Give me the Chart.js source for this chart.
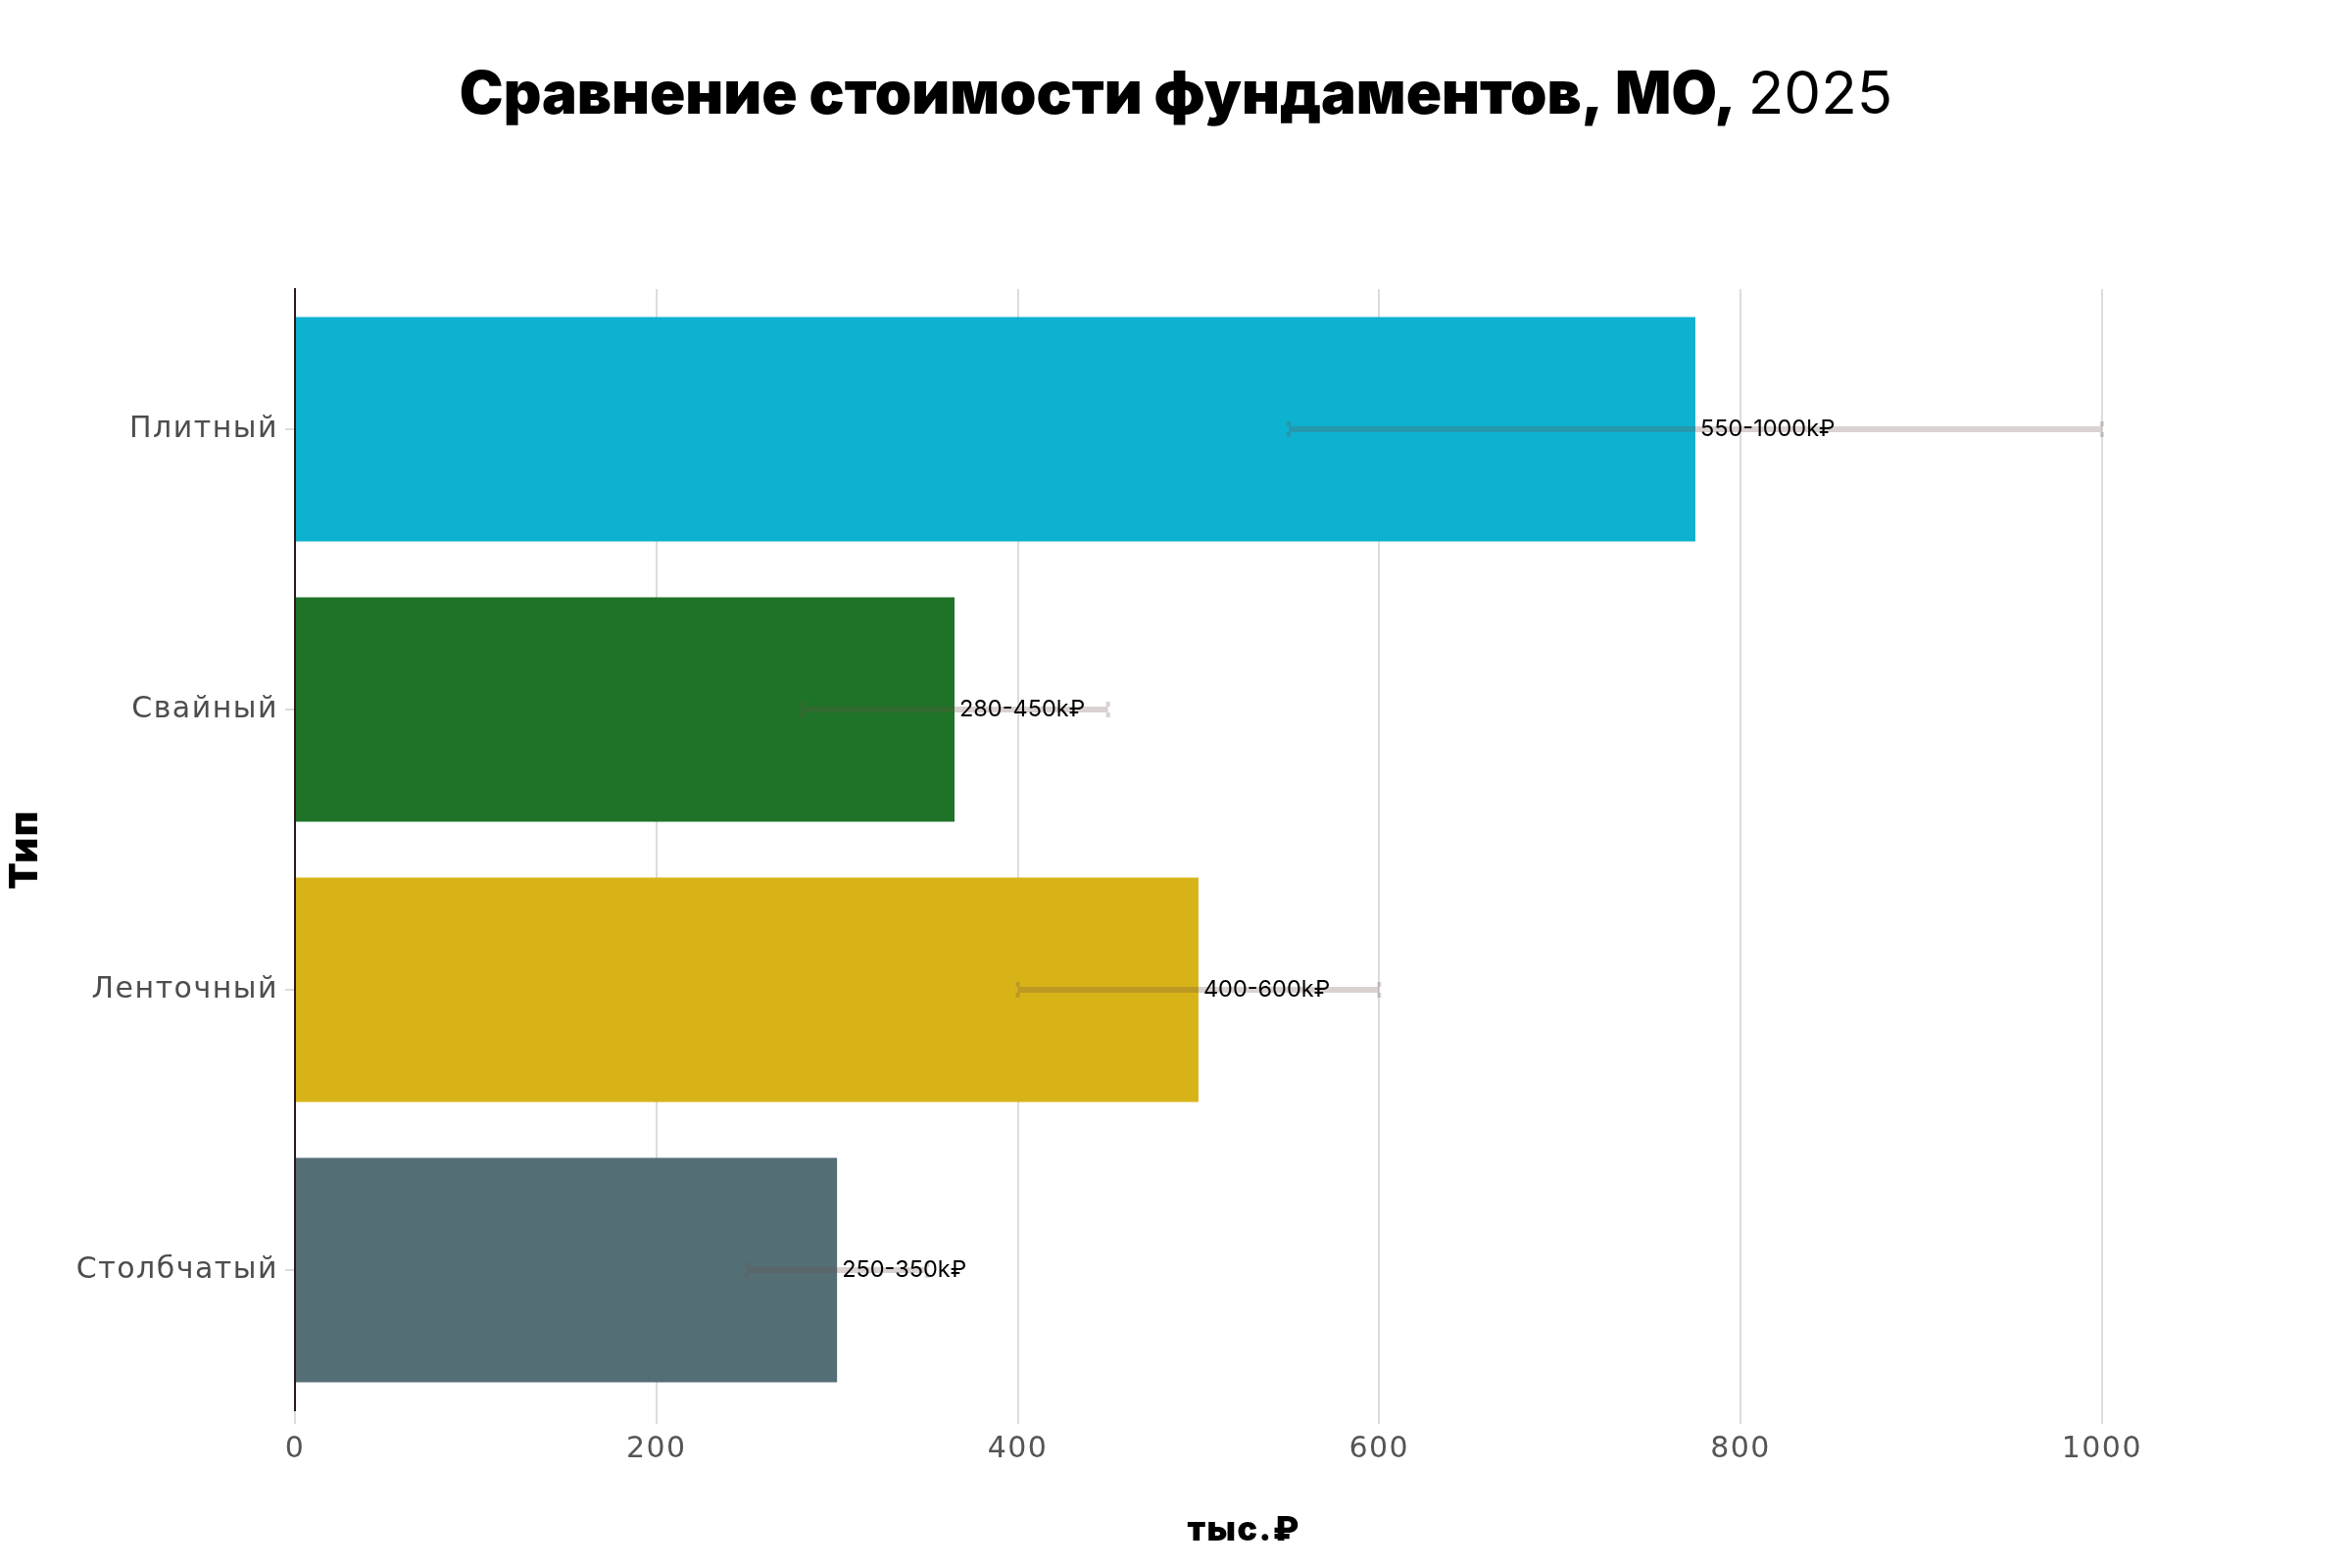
<!DOCTYPE html>
<html>
<head>
<meta charset="utf-8">
<script src="https://cdn.jsdelivr.net/npm/chart.js@4.4.1/dist/chart.umd.min.js"></script>
<style>
	html, body { margin: 0; padding: 0; background: #fff; }
	#wrap { width: 2400px; height: 1600px; }
</style>
</head>
<body>
<div id="wrap"><canvas id="chart" width="2400" height="1600"></canvas></div>
<script>
// данные
var types = ["Плитный", "Свайный", "Ленточный", "Столбчатый"];
var costMid = [775, 365, 500, 300];
var costLow = [550, 280, 400, 250];
var costHigh = [1000, 450, 600, 350];
var barColors = ["#0EB1D0", "#1F7328", "#D8B317", "#546E75"];
var xTicks = [0, 200, 400, 600, 800, 1000];

var titleBold = "Сравнение стоимости фундаментов, МО, ";
var titleNormal = "2025";

// заголовок: жирная часть + обычный год
var titlePlugin = {
	id: "titlePlugin",
	beforeDraw: function(chart){
		chart.ctx.letterSpacing = "1.5px"; // разрядка для подписей осей
	},
	beforeDatasetsDraw: function(chart){
		chart.ctx.letterSpacing = "0px";
	},
	afterDraw: function(chart){
		var ctx = chart.ctx;
		ctx.save();
		ctx.letterSpacing = "0px";
		ctx.fillStyle = "#000";
		ctx.textBaseline = "middle";
		ctx.textAlign = "left";
		var fBold = "900 60px Inter, 'DejaVu Sans', sans-serif";
		var fNorm = "400 60px Inter, 'DejaVu Sans', sans-serif";
		ctx.font = fBold;
		var w1 = ctx.measureText(titleBold).width;
		ctx.font = fNorm;
		var w2 = ctx.measureText(titleNormal).width;
		var x0 = chart.width / 2 - (w1 + w2) / 2;
		ctx.font = fBold;
		ctx.fillText(titleBold, x0, 98);
		ctx.font = fNorm;
		ctx.fillText(titleNormal, x0 + w1, 98);
		ctx.restore();
	}
};

// диапазоны цен + подписи
var rangePlugin = {
	id: "rangePlugin",
	afterDatasetsDraw: function(chart){
		var ctx = chart.ctx;
		var xs = chart.scales.x;
		var meta = chart.getDatasetMeta(0);
		ctx.save();
		ctx.letterSpacing = "0px";
		for(var i = 0; i < types.length; i++){
			var y = meta.data[i].y;
			var x1 = xs.getPixelForValue(costLow[i]);
			var x2 = xs.getPixelForValue(costHigh[i]);
			ctx.strokeStyle = "rgba(110,80,75,0.26)";
			ctx.lineWidth = 6;
			ctx.beginPath();
			ctx.moveTo(x1, y);
			ctx.lineTo(x2, y);
			ctx.stroke();
			ctx.lineWidth = 4;
			ctx.beginPath();
			ctx.moveTo(x1, y - 8); ctx.lineTo(x1, y - 3);
			ctx.moveTo(x1, y + 3); ctx.lineTo(x1, y + 8);
			ctx.moveTo(x2, y - 8); ctx.lineTo(x2, y - 3);
			ctx.moveTo(x2, y + 3); ctx.lineTo(x2, y + 8);
			ctx.stroke();
		}
		ctx.fillStyle = "#000";
		ctx.font = "400 23.5px Inter, 'DejaVu Sans', sans-serif";
		ctx.textBaseline = "middle";
		ctx.textAlign = "left";
		for(var j = 0; j < types.length; j++){
			var bx = xs.getPixelForValue(costMid[j]);
			ctx.fillText(costLow[j] + "-" + costHigh[j] + "k₽", bx + 5, meta.data[j].y);
		}
		ctx.restore();
	}
};

new Chart(document.getElementById("chart"), {
	type: "bar",
	data: {
		labels: types,
		datasets: [{
			data: costMid,
			backgroundColor: barColors,
			borderWidth: 0,
			categoryPercentage: 1,
			barPercentage: 0.8
		}]
	},
	options: {
		indexAxis: "y",
		responsive: false,
		animation: false,
		layout: {padding: {left: 0, right: 163, top: 295, bottom: 0}},
		plugins: {
			legend: {display: false},
			tooltip: {enabled: false},
			title: {display: false}
		},
		scales: {
			x: {
				min: 0,
				max: 1050,
				afterBuildTicks: function(s){
					s.ticks = xTicks.map(function(v){ return {value: v}; });
				},
				afterFit: function(s){ s.height = 161; },
				border: {display: false},
				grid: {color: "#dcdcdc", lineWidth: 2, tickLength: 14, tickColor: "#dcdcdc"},
				ticks: {
					color: "#555", padding: 8, font: {family: "'DejaVu Sans'", size: 30},
					callback: function(v){ return String(v); }
				},
				title: {display: true, text: "тыс.₽", color: "#000", padding: {top: 0, bottom: 18}, font: {family: "Inter, 'DejaVu Sans'", size: 34, weight: "900"}}
			},
			y: {
				afterFit: function(s){ s.width = 301; },
				border: {display: true, color: "#2a1a1a", width: 2},
				grid: {drawOnChartArea: false, offset: false, tickLength: 10, tickColor: "#dcdcdc", lineWidth: 2},
				ticks: {color: "#4d4d4d", padding: 7, font: {family: "'DejaVu Sans'", size: 30}},
				title: {display: true, text: "Тип", color: "#000", padding: {top: 2, bottom: 0}, font: {family: "Inter, 'DejaVu Sans'", size: 40, weight: "900"}}
			}
		}
	},
	plugins: [titlePlugin, rangePlugin]
});
</script>
</body>
</html>
